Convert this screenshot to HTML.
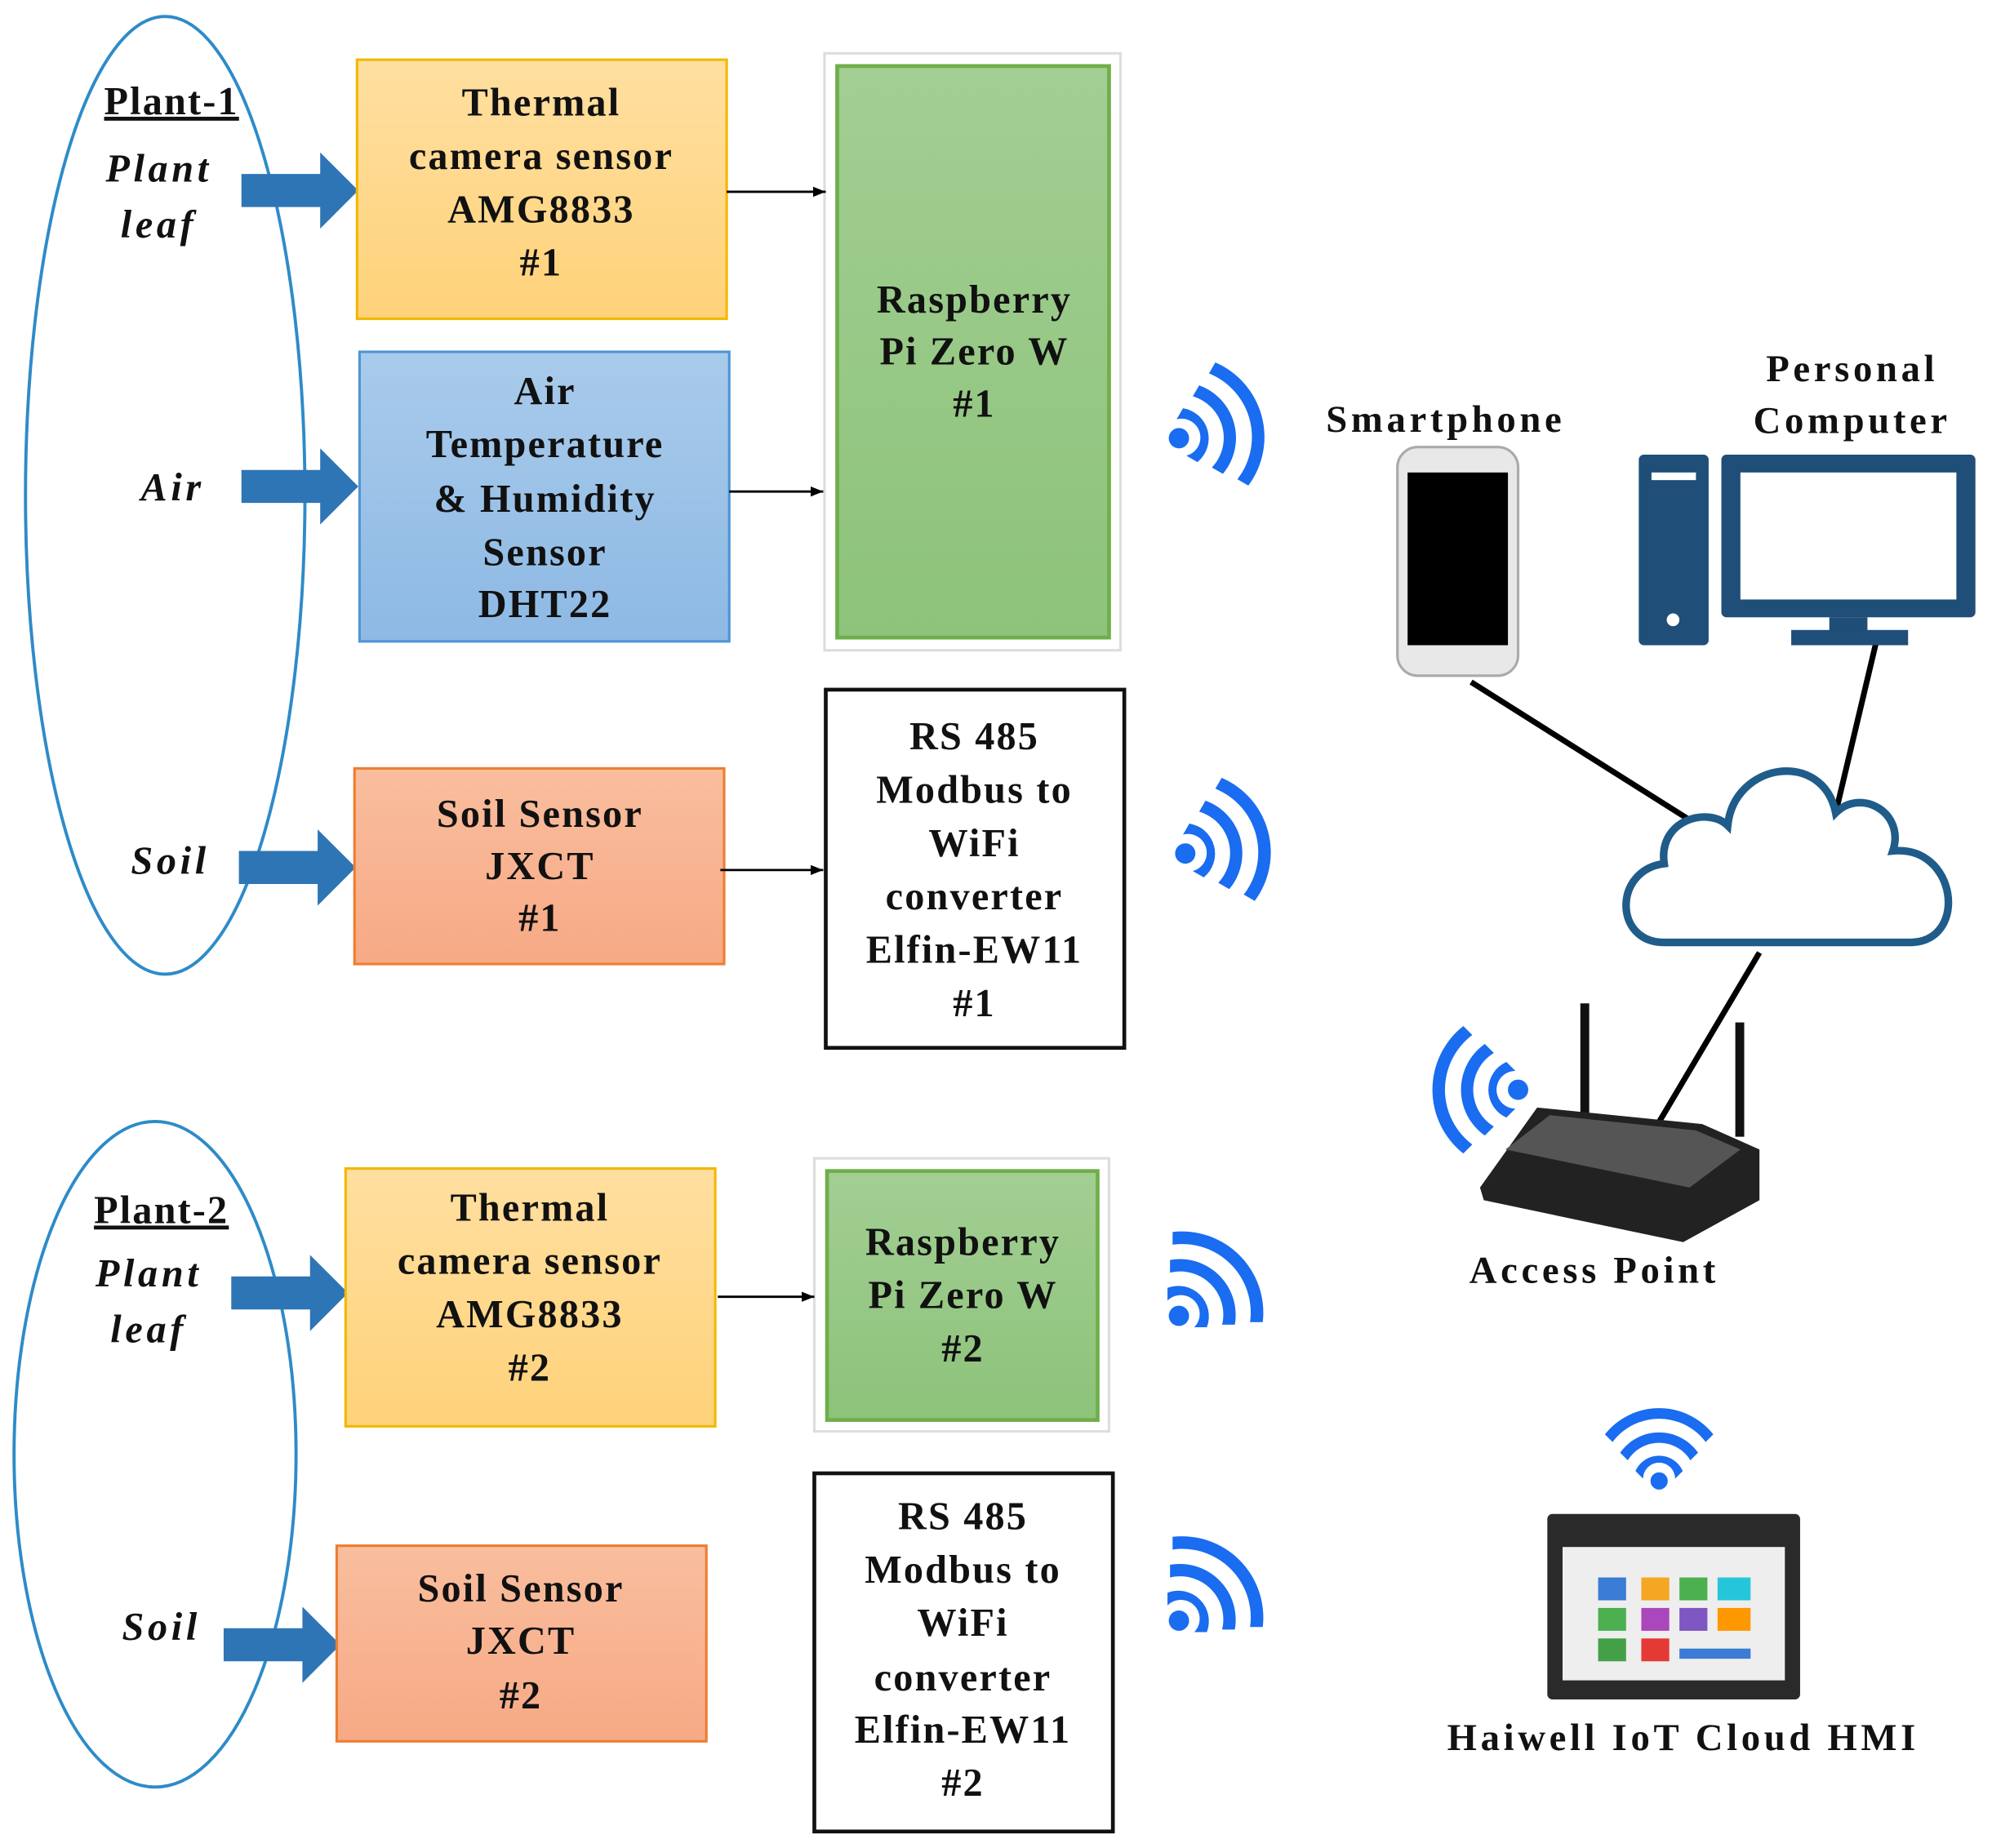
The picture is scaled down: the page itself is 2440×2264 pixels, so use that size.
<!DOCTYPE html>
<html><head><meta charset="utf-8"><style>
html,body{margin:0;padding:0;background:#fff}
svg{display:block}
text{font-family:"Liberation Serif",serif;font-weight:bold;fill:#111;text-anchor:middle}
.b{font-size:31px;letter-spacing:1.4px}
.i{font-style:italic;font-size:31px;letter-spacing:3px}
.d{font-size:30px;letter-spacing:3px}
</style></head><body>
<svg width="2440" height="2264" viewBox="0 0 1568 1455" xmlns="http://www.w3.org/2000/svg">
<defs>
<marker id="ah" markerWidth="10" markerHeight="8" refX="10" refY="4" orient="auto" markerUnits="userSpaceOnUse"><path d="M0,0 L10,4 L0,8 Z" fill="#000"/></marker>
<linearGradient id="gy" x1="0" y1="0" x2="0" y2="1"><stop offset="0" stop-color="#FFDFA0"/><stop offset="1" stop-color="#FFD27A"/></linearGradient>
<linearGradient id="gb" x1="0" y1="0" x2="0" y2="1"><stop offset="0" stop-color="#A9CBEB"/><stop offset="1" stop-color="#8DB9E4"/></linearGradient>
<linearGradient id="go" x1="0" y1="0" x2="0" y2="1"><stop offset="0" stop-color="#F9BE9E"/><stop offset="1" stop-color="#F7A985"/></linearGradient>
<linearGradient id="gg" x1="0" y1="0" x2="0" y2="1"><stop offset="0" stop-color="#A2CE93"/><stop offset="1" stop-color="#8DC37A"/></linearGradient>
<g id="barrow"><path d="M0,-13 L62,-13 L62,-30 L92,0 L62,30 L62,13 L0,13 Z" fill="#2E75B6"/></g>
<g id="wifi" fill="#1A6CF0"><circle cx="0" cy="0" r="8"/><path d="M-9,-22 A24,24 0 0 1 22,9 L12,9 A14,14 0 0 0 -9,-12 Z"/><path d="M-9,-42 A44,44 0 0 1 42,9 L32,9 A34,34 0 0 0 -9,-32 Z" transform="translate(2,-2)"/><path d="M-9,-62 A64,64 0 0 1 62,9 L52,9 A54,54 0 0 0 -9,-52 Z" transform="translate(4,-4)"/></g>
</defs>

<ellipse cx="130" cy="390" rx="110" ry="377" fill="none" stroke="#2E8BC8" stroke-width="2.5"/>
<ellipse cx="122" cy="1145" rx="111" ry="262" fill="none" stroke="#2E8BC8" stroke-width="2.5"/>

<text class="b" x="135" y="90" text-decoration="underline">Plant-1</text>
<text class="i" x="125" y="143">Plant</text>
<text class="i" x="125" y="187">leaf</text>
<text class="i" x="136" y="394">Air</text>
<text class="i" x="134" y="688">Soil</text>
<text class="b" x="127" y="963" text-decoration="underline">Plant-2</text>
<text class="i" x="117" y="1013">Plant</text>
<text class="i" x="117" y="1057">leaf</text>
<text class="i" x="127" y="1291">Soil</text>

<use href="#barrow" x="190" y="150"/>
<use href="#barrow" x="190" y="383"/>
<use href="#barrow" x="188" y="683"/>
<use href="#barrow" x="182" y="1018"/>
<use href="#barrow" x="176" y="1295"/>

<rect x="281" y="47" width="291" height="204" fill="url(#gy)" stroke="#F2B800" stroke-width="2"/>
<text class="b" x="426" y="91">Thermal</text><text class="b" x="426" y="133">camera sensor</text><text class="b" x="426" y="175">AMG8833</text><text class="b" x="426" y="217">#1</text>

<rect x="283" y="277" width="291" height="228" fill="url(#gb)" stroke="#4F95D5" stroke-width="2"/>
<text class="b" x="429" y="318">Air</text><text class="b" x="429" y="360">Temperature</text><text class="b" x="429" y="403">&amp; Humidity</text><text class="b" x="429" y="445">Sensor</text><text class="b" x="429" y="486">DHT22</text>

<rect x="279" y="605" width="291" height="154" fill="url(#go)" stroke="#ED7D31" stroke-width="2"/>
<text class="b" x="425" y="651">Soil Sensor</text><text class="b" x="425" y="692">JXCT</text><text class="b" x="425" y="733">#1</text>

<rect x="272" y="920" width="291" height="203" fill="url(#gy)" stroke="#F2B800" stroke-width="2"/>
<text class="b" x="417" y="961">Thermal</text><text class="b" x="417" y="1003">camera sensor</text><text class="b" x="417" y="1045">AMG8833</text><text class="b" x="417" y="1087">#2</text>

<rect x="265" y="1217" width="291" height="154" fill="url(#go)" stroke="#ED7D31" stroke-width="2"/>
<text class="b" x="410" y="1261">Soil Sensor</text><text class="b" x="410" y="1302">JXCT</text><text class="b" x="410" y="1345">#2</text>

<rect x="649" y="42" width="233" height="470" fill="#fff" stroke="#ddd" stroke-width="2"/>
<rect x="659" y="52" width="214" height="450" fill="url(#gg)" stroke="#6FAE4A" stroke-width="3"/>
<text class="b" x="767" y="246">Raspberry</text><text class="b" x="767" y="287">Pi Zero W</text><text class="b" x="767" y="328">#1</text>

<rect x="641" y="912" width="232" height="215" fill="#fff" stroke="#ddd" stroke-width="2"/>
<rect x="651" y="922" width="213" height="196" fill="url(#gg)" stroke="#6FAE4A" stroke-width="3"/>
<text class="b" x="758" y="988">Raspberry</text><text class="b" x="758" y="1030">Pi Zero W</text><text class="b" x="758" y="1072">#2</text>

<rect x="650" y="543" width="235" height="282" fill="#fff" stroke="#111" stroke-width="3"/>
<text class="b" x="767" y="590">RS 485</text><text class="b" x="767" y="632">Modbus to</text><text class="b" x="767" y="674">WiFi</text><text class="b" x="767" y="716">converter</text><text class="b" x="767" y="758">Elfin-EW11</text><text class="b" x="767" y="800">#1</text>

<rect x="641" y="1160" width="235" height="282" fill="#fff" stroke="#111" stroke-width="3"/>
<text class="b" x="758" y="1204">RS 485</text><text class="b" x="758" y="1246">Modbus to</text><text class="b" x="758" y="1288">WiFi</text><text class="b" x="758" y="1331">converter</text><text class="b" x="758" y="1372">Elfin-EW11</text><text class="b" x="758" y="1414">#2</text>

<g stroke="#000" stroke-width="1.8" marker-end="url(#ah)">
<line x1="572" y1="151" x2="650" y2="151"/>
<line x1="574" y1="387" x2="648" y2="387"/>
<line x1="567" y1="685" x2="648" y2="685"/>
<line x1="565" y1="1021" x2="641" y2="1021"/>
</g>

<use href="#wifi" transform="translate(928,345) rotate(30)"/>
<use href="#wifi" transform="translate(933,672) rotate(30)"/>
<use href="#wifi" transform="translate(928,1036)"/>
<use href="#wifi" transform="translate(928,1276)"/>
<use href="#wifi" transform="translate(1195,858) rotate(-135)"/>
<use href="#wifi" transform="translate(1306,1166) rotate(-45) scale(0.85)"/>

<g stroke="#000" stroke-width="4.5">
<line x1="1158" y1="537" x2="1345" y2="655"/>
<line x1="1477" y1="505" x2="1445" y2="640"/>
<line x1="1385" y1="750" x2="1305" y2="885"/>
</g>

<path d="M1310,742 C1270,742 1270,685 1310,680 C1305,645 1345,635 1360,650 C1365,600 1435,590 1445,640 C1465,620 1500,640 1490,670 C1540,665 1550,740 1505,742 Z" fill="#fff" stroke="#1F5C8A" stroke-width="6"/>

<rect x="1100" y="352" width="95" height="180" rx="16" fill="#e8e8e8" stroke="#aaa" stroke-width="2"/>
<rect x="1108" y="372" width="79" height="136" fill="#000"/>
<text class="d" x="1138" y="340">Smartphone</text>

<rect x="1290" y="358" width="55" height="150" rx="4" fill="#1F4E79"/>
<rect x="1300" y="372" width="35" height="6" fill="#fff"/>
<circle cx="1317" cy="488" r="5" fill="#fff"/>
<rect x="1355" y="358" width="200" height="128" rx="4" fill="#1F4E79"/>
<rect x="1370" y="372" width="170" height="100" fill="#fff"/>
<rect x="1440" y="486" width="30" height="14" fill="#1F4E79"/>
<rect x="1410" y="496" width="92" height="12" fill="#1F4E79"/>
<text class="d" x="1458" y="300">Personal</text>
<text class="d" x="1458" y="341">Computer</text>

<rect x="1244" y="790" width="7" height="95" fill="#111"/>
<rect x="1366" y="805" width="7" height="90" fill="#111"/>
<path d="M1165,935 L1210,872 L1340,885 L1385,905 L1385,945 L1325,978 L1168,945 Z" fill="#222"/>
<path d="M1185,905 L1220,878 L1335,890 L1370,905 L1330,935 Z" fill="#555"/>
<text class="d" x="1255" y="1010">Access Point</text>

<rect x="1218" y="1192" width="199" height="146" rx="4" fill="#2a2a2a"/>
<rect x="1230" y="1218" width="175" height="105" fill="#eee"/>
<g>
<rect x="1258" y="1242" width="22" height="18" fill="#3A7BD5"/><rect x="1292" y="1242" width="22" height="18" fill="#F5A623"/><rect x="1322" y="1242" width="22" height="18" fill="#4CAF50"/><rect x="1352" y="1242" width="26" height="18" fill="#26C6DA"/>
<rect x="1258" y="1266" width="22" height="18" fill="#4CAF50"/><rect x="1292" y="1266" width="22" height="18" fill="#AB47BC"/><rect x="1322" y="1266" width="22" height="18" fill="#7E57C2"/><rect x="1352" y="1266" width="26" height="18" fill="#FF9800"/>
<rect x="1258" y="1290" width="22" height="18" fill="#43A047"/><rect x="1292" y="1290" width="22" height="18" fill="#E53935"/><rect x="1322" y="1298" width="56" height="8" fill="#3A7BD5"/>
</g>
<text class="d" x="1325" y="1378">Haiwell IoT Cloud HMI</text>
</svg>
</body></html>
